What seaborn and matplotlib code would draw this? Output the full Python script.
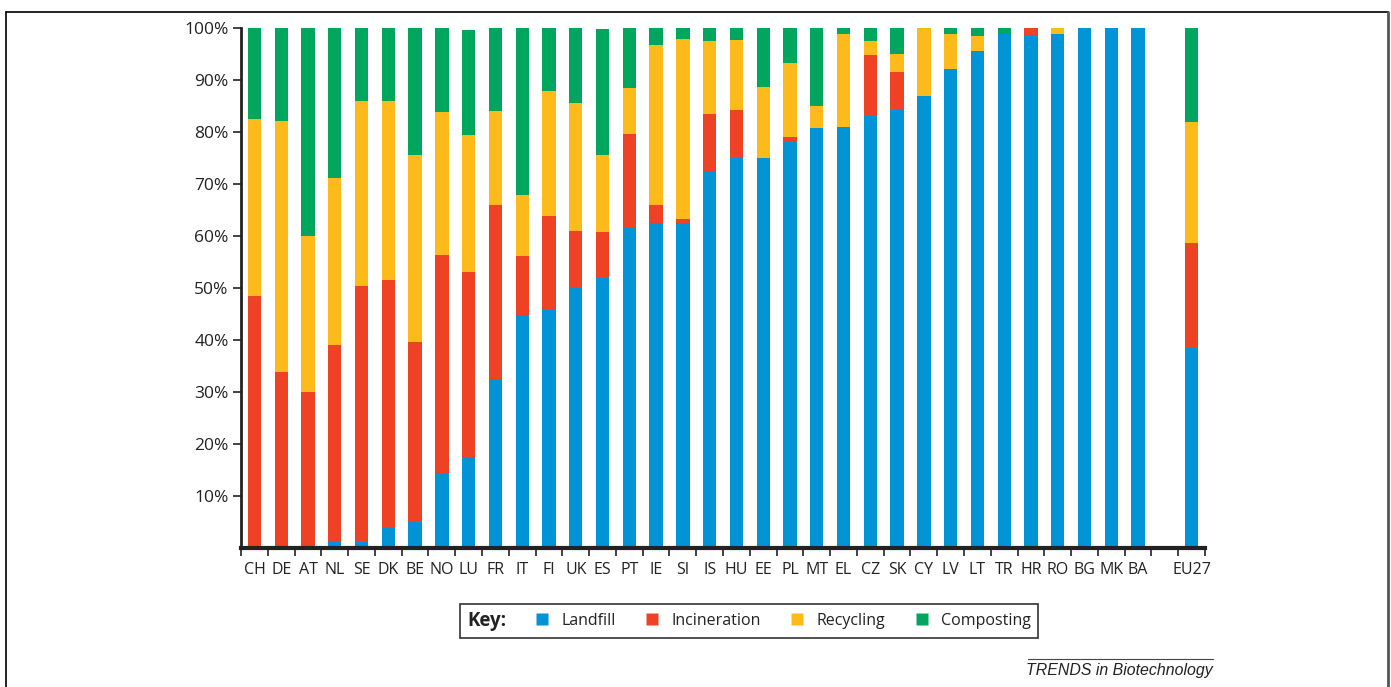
import numpy as np
import pandas as pd
import seaborn as sns
import matplotlib.pyplot as plt
from matplotlib.lines import Line2D
from matplotlib.offsetbox import HPacker

# share of municipal waste by treatment (%)
countries = ['CH', 'DE', 'AT', 'NL', 'SE', 'DK', 'BE', 'NO', 'LU', 'FR', 'IT', 'FI',
             'UK', 'ES', 'PT', 'IE', 'SI', 'IS', 'HU', 'EE', 'PL', 'MT', 'EL', 'CZ',
             'SK', 'CY', 'LV', 'LT', 'TR', 'HR', 'RO', 'BG', 'MK', 'BA', '', 'EU27']
landfill = [0, 0, 0, 1.2, 1.4, 3.8, 5.2, 14.5, 17.5, 32.5, 44.9, 46.0,
            50.0, 52.1, 61.6, 62.6, 62.6, 72.5, 75.0, 75.1, 78.0, 80.8, 81.0, 83.0,
            84.3, 87.0, 92.2, 95.5, 98.8, 98.6, 98.8, 100, 100, 100, 0, 38.5]
incineration = [48.5, 33.8, 30.0, 37.9, 48.9, 47.8, 34.4, 41.8, 35.6, 33.5, 11.3, 17.9,
                10.9, 8.6, 18.1, 3.4, 0.7, 11.0, 9.2, 0, 1.0, 0, 0, 11.9,
                7.2, 0, 0, 0, 0, 1.4, 0, 0, 0, 0, 0, 20.2]
recycling = [34.1, 48.3, 30.1, 32.0, 35.6, 34.3, 35.9, 27.6, 26.3, 18.1, 11.6, 24.0,
             24.6, 14.8, 8.7, 30.8, 34.6, 14.0, 13.5, 13.5, 14.2, 4.2, 17.9, 2.6,
             3.5, 13.0, 6.7, 2.9, 0, 0, 1.2, 0, 0, 0, 0, 23.2]
composting = [17.4, 17.9, 39.9, 28.9, 14.1, 14.1, 24.5, 16.1, 20.3, 15.9, 32.2, 12.1,
              14.5, 24.4, 11.6, 3.2, 2.1, 2.5, 2.3, 11.4, 6.8, 15.0, 1.1, 2.5,
              5.0, 0, 1.1, 1.6, 1.2, 0, 0, 0, 0, 0, 0, 18.1]

layers = ['Landfill', 'Incineration', 'Recycling', 'Composting']
colors = {'Landfill': '#0093d6', 'Incineration': '#ef4123',
          'Recycling': '#fdbb1b', 'Composting': '#00a65d'}

df = pd.DataFrame({'country': countries, 'Landfill': landfill,
                   'Incineration': incineration, 'Recycling': recycling,
                   'Composting': composting})
tops = df[layers].cumsum(axis=1)
tops['country'] = df['country']

sns.set_style('white')
plt.rcParams['font.family'] = ['Open Sans', 'DejaVu Sans']

fig = plt.figure(figsize=(13.91, 6.87), dpi=100)
ax = fig.add_axes([0.1733, 0.2023, 0.6930, 0.7569])

# stacked bars: draw cumulative totals from the top layer down
for layer in reversed(layers):
    sns.barplot(data=tops, x='country', y=layer, order=countries, color=colors[layer],
                saturation=1, width=0.5, errorbar=None, edgecolor='none', ax=ax)

ax.set_xlim(-0.5, len(countries) - 0.5)
ax.set_ylim(0, 100)
ax.set_xlabel('')
ax.set_ylabel('')

yt = np.arange(10, 101, 10)
ax.set_yticks(yt)
ax.set_yticklabels(['%d%%' % v for v in yt])
ax.tick_params(axis='y', direction='out', length=6, width=1.2, color='#222222',
               labelsize=12.5, labelcolor='#222222', pad=3, left=True)

ax.set_xticks(np.arange(len(countries)))
ax.set_xticklabels(countries)
ax.set_xticks(np.arange(-0.5, len(countries)), minor=True)
ax.tick_params(axis='x', which='major', length=0, labelsize=11.5,
               labelcolor='#222222', pad=10)
ax.tick_params(axis='x', which='minor', direction='out', length=6, width=1.2,
               color='#222222', bottom=True)

sns.despine(ax=ax)
ax.spines['left'].set_linewidth(2)
ax.spines['left'].set_color('#222222')
ax.spines['bottom'].set_linewidth(3)
ax.spines['bottom'].set_color('#222222')

# legend with "Key:" on the left
handles = []
for layer in layers:
    handles.append(Line2D([], [], ls='none', marker='s', markersize=8.5,
                          markerfacecolor=colors[layer], markeredgecolor='none',
                          label=layer))
leg = fig.legend(handles=handles, ncol=4, loc='center', bbox_to_anchor=(0.5385, 0.0965),
                 frameon=True, fancybox=False, edgecolor='black', fontsize=11.5,
                 handlelength=1.0, handletextpad=0.7, columnspacing=1.8,
                 borderpad=0.45, title='Key:',
                 title_fontproperties={'weight': 'bold', 'size': 13.5})
leg.get_frame().set_linewidth(1.2)
for t in leg.get_texts():
    t.set_color('#222222')
leg.get_title().set_color('#222222')
leg._legend_box.__class__ = HPacker
leg._legend_box.sep = 20

# frame around the figure
fig.add_artist(Line2D([6 / 1391, 6 / 1391], [-0.01, 1 - 12 / 687], transform=fig.transFigure,
                      color='black', lw=1.2))
fig.add_artist(Line2D([6 / 1391, 1388 / 1391], [1 - 12 / 687, 1 - 12 / 687],
                      transform=fig.transFigure, color='black', lw=1.2))
fig.add_artist(Line2D([1388 / 1391, 1388 / 1391], [-0.01, 1 - 12 / 687],
                      transform=fig.transFigure, color='#555555', lw=2))

# journal credit
fig.add_artist(Line2D([1028 / 1391, 1213 / 1391], [1 - 659 / 687, 1 - 659 / 687],
                      transform=fig.transFigure, color='#444444', lw=0.8))
fig.text(1213 / 1391, 1 - 670 / 687, 'TRENDS in Biotechnology', ha='right', va='center',
         fontsize=11.4, style='italic', family='Liberation Sans', color='#222222')

fig.savefig('out.png', dpi=100)
